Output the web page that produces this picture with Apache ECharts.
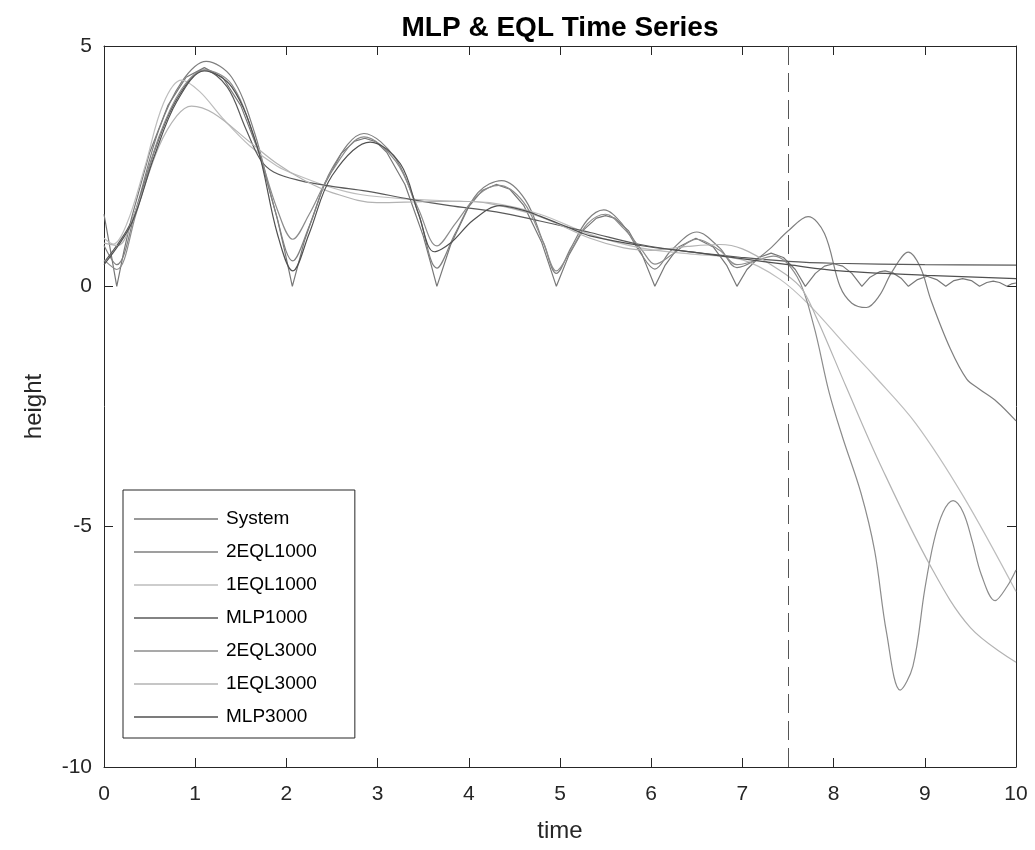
<!DOCTYPE html>
<html>
<head>
<meta charset="utf-8">
<script src="https://cdn.jsdelivr.net/npm/echarts@6/dist/echarts.min.js"></script>
<style>
  html, body { margin: 0; padding: 0; background: #fff; }
  #chart { width: 1035px; height: 850px; }
</style>
</head>
<body>
<div id="chart"></div>
<script>
// time / height pairs
var systemData = [
  [0, 1.5], [0.07, 0.76], [0.14, 0],
  [0.22, 0.75], [0.3, 1.41], [0.5, 2.78], [0.7, 3.76], [0.9, 4.35], [1.1, 4.55], [1.3, 4.35], [1.5, 3.76], [1.7, 2.78], [1.9, 1.41], [1.98, 0.75], [2.065, 0],
  [2.2, 0.96], [2.4, 2.05], [2.6, 2.76], [2.75, 3.02], [2.86, 3.08], [2.98, 3.01], [3.1, 2.79], [3.3, 2.12], [3.5, 1.05], [3.58, 0.5], [3.65, 0],
  [3.8, 0.86], [4.0, 1.66], [4.15, 2.0], [4.3, 2.12], [4.45, 2.02], [4.6, 1.69], [4.8, 0.91], [4.96, 0],
  [5.1, 0.66], [5.25, 1.16], [5.4, 1.42], [5.5, 1.47], [5.6, 1.42], [5.75, 1.16], [5.9, 0.66], [6.04, 0],
  [6.15, 0.43], [6.3, 0.82], [6.49, 1.0], [6.68, 0.82], [6.83, 0.43], [6.94, 0],
  [7.05, 0.35], [7.18, 0.6], [7.315, 0.69], [7.45, 0.6], [7.58, 0.35], [7.69, 0],
  [7.8, 0.27], [7.9, 0.42], [8.0, 0.47], [8.1, 0.42], [8.2, 0.27], [8.31, 0],
  [8.4, 0.19], [8.5, 0.3], [8.565, 0.32], [8.65, 0.28], [8.74, 0.17], [8.82, 0],
  [8.92, 0.14], [9.025, 0.21], [9.13, 0.14], [9.23, 0],
  [9.32, 0.12], [9.415, 0.16], [9.51, 0.12], [9.6, 0],
  [9.68, 0.08], [9.75, 0.11], [9.82, 0.08], [9.9, 0],
  [9.95, 0.05], [10, 0.07]
];
var eql2k1Data = [
  [0, 0.85], [0.14, 0.45], [0.35, 1.6], [0.6, 3.25], [0.85, 4.25], [1.12, 4.68], [1.4, 4.35], [1.65, 3.2], [1.88, 1.55], [2.07, 0.53],
  [2.25, 1.25], [2.5, 2.45], [2.85, 3.18], [3.2, 2.65], [3.45, 1.5], [3.65, 0.38], [3.85, 1.1], [4.1, 1.95], [4.36, 2.2], [4.62, 1.8],
  [4.82, 0.9], [4.96, 0.27], [5.12, 0.8], [5.3, 1.38], [5.48, 1.59], [5.68, 1.3], [5.88, 0.7], [6.04, 0.36], [6.22, 0.75], [6.5, 1.13],
  [6.75, 0.8], [6.94, 0.39], [7.12, 0.52], [7.3, 0.78], [7.5, 1.15], [7.72, 1.45], [7.9, 1.1], [8.07, 0.0], [8.2, -0.35], [8.36, -0.44],
  [8.5, -0.2], [8.64, 0.3], [8.82, 0.71], [8.95, 0.4], [9.07, -0.3], [9.28, -1.3], [9.46, -1.93], [9.6, -2.14], [9.79, -2.4], [10, -2.8]
];
var eql1k1Data = [
  [0, 1.0], [0.1, 0.88], [0.25, 1.3], [0.45, 2.5], [0.65, 3.8], [0.85, 4.29], [1.05, 4.05], [1.3, 3.5], [1.6, 2.92], [1.9, 2.5],
  [2.15, 2.29], [2.5, 2.05], [2.81, 1.91], [3.3, 1.82], [3.9, 1.77], [4.23, 1.74], [4.78, 1.5], [5.33, 1.08], [5.88, 0.8], [6.4, 0.68],
  [7.0, 0.55], [7.41, 0.15], [7.74, -0.4], [8.14, -1.24], [8.44, -1.85], [8.9, -2.85], [9.42, -4.36], [10, -6.35]
];
var mlp1kData = [
  [0, 0.5], [0.3, 1.35], [0.55, 2.8], [0.8, 3.9], [1.1, 4.5], [1.35, 4.15], [1.55, 3.3], [1.71, 2.65], [1.86, 2.38], [2.15, 2.2],
  [2.5, 2.08], [2.88, 1.98], [3.36, 1.81], [3.79, 1.68], [4.3, 1.55], [4.78, 1.36], [5.33, 1.12], [5.88, 0.87], [6.5, 0.7], [7.0, 0.6],
  [7.5, 0.52], [8.0, 0.48], [9.0, 0.45], [10, 0.44]
];
var eql2k3Data = [
  [0, 0.55], [0.14, 0.35], [0.35, 1.5], [0.6, 3.1], [0.85, 4.1], [1.1, 4.5], [1.4, 4.2], [1.68, 2.9], [1.9, 1.6], [2.07, 0.98],
  [2.25, 1.5], [2.5, 2.4], [2.85, 3.11], [3.2, 2.6], [3.45, 1.6], [3.65, 0.84], [3.85, 1.3], [4.1, 1.9], [4.33, 2.1], [4.6, 1.75],
  [4.82, 0.9], [4.96, 0.32], [5.12, 0.75], [5.3, 1.3], [5.5, 1.5], [5.7, 1.2], [5.9, 0.75], [6.04, 0.46], [6.22, 0.65], [6.5, 0.98],
  [6.75, 0.75], [6.94, 0.45], [7.12, 0.52], [7.34, 0.63], [7.6, 0.2], [7.78, -0.8], [7.95, -2.2], [8.1, -3.15], [8.3, -4.3], [8.45, -5.5],
  [8.58, -7.2], [8.73, -8.4], [8.87, -7.9], [9.0, -6.3], [9.1, -5.3], [9.2, -4.7], [9.31, -4.46], [9.42, -4.7], [9.52, -5.3], [9.62, -6.0],
  [9.77, -6.54], [9.9, -6.25], [10, -5.9]
];
var eql1k3Data = [
  [0, 0.9], [0.15, 0.85], [0.35, 1.6], [0.6, 2.9], [0.8, 3.55], [0.96, 3.75], [1.2, 3.6], [1.6, 3.0], [1.9, 2.55], [2.2, 2.2],
  [2.5, 1.95], [2.99, 1.74], [3.5, 1.76], [3.9, 1.77], [4.23, 1.72], [4.78, 1.45], [5.33, 1.0], [5.7, 0.8], [6.0, 0.75], [6.4, 0.83],
  [6.75, 0.87], [7.0, 0.78], [7.34, 0.42], [7.63, 0.0], [7.8, -0.6], [8.14, -2.1], [8.51, -3.7], [9.06, -5.81], [9.5, -7.1], [10, -7.82]
];
var mlp3kData = [
  [0, 0.45], [0.3, 1.3], [0.55, 2.7], [0.8, 3.85], [1.1, 4.48], [1.4, 4.15], [1.68, 2.9], [1.9, 1.1], [2.07, 0.32], [2.25, 1.1],
  [2.5, 2.3], [2.92, 3.0], [3.25, 2.55], [3.45, 1.5], [3.62, 0.72], [3.8, 0.9], [4.05, 1.38], [4.34, 1.68], [4.6, 1.58], [4.78, 1.46],
  [5.15, 1.18], [5.33, 1.05], [5.88, 0.85], [6.5, 0.7], [6.97, 0.58], [7.5, 0.45], [8.07, 0.32], [9.02, 0.23], [10, 0.16]
];
var seriesNames = ['System', '2EQL1000', '1EQL1000', 'MLP1000', '2EQL3000', '1EQL3000', 'MLP3000'];
var seriesData = [systemData, eql2k1Data, eql1k1Data, mlp1kData, eql2k3Data, eql1k3Data, mlp3kData];
var seriesColors = ['#777777', '#7f7f7f', '#bdbdbd', '#5a5a5a', '#8c8c8c', '#b3b3b3', '#505050'];
var cutTime = 7.5;

var textColor = '#262626';
var fontFam = '"Liberation Sans", Arial, Helvetica, sans-serif';

var chart = echarts.init(document.getElementById('chart'));

var series = seriesNames.map(function (name, i) {
    var s = {
        name: name,
        type: 'line',
        data: seriesData[i],
        symbol: 'none',
        smooth: i === 0 ? false : 0.35,
        lineStyle: { color: seriesColors[i], width: 1.2 },
        itemStyle: { color: seriesColors[i] }
    };
    if (i === 0) {
        // dashed marker at the end of the training window
        s.markLine = {
            silent: true,
            symbol: 'none',
            label: { show: false },
            lineStyle: { color: '#555555', width: 1, type: [19, 8] },
            data: [{ xAxis: cutTime }]
        };
    }
    return s;
});

var axisBase = {
    type: 'value',
    axisLine: { show: true, onZero: false, lineStyle: { color: textColor, width: 1 } },
    axisTick: { show: true, inside: true, length: 9, lineStyle: { color: textColor } },
    splitLine: { show: false }
};

var option = {
    animation: false,
    backgroundColor: '#fff',
    textStyle: { fontFamily: fontFam },
    title: {
        text: 'MLP & EQL Time Series',
        left: 555,
        top: 9,
        textAlign: 'center',
        textStyle: { fontSize: 28, fontWeight: 'bold', color: '#000', fontFamily: fontFam }
    },
    legend: {
        orient: 'vertical',
        left: 123,
        top: 490,
        icon: 'rect',
        itemWidth: 84,
        itemHeight: 1.4,
        itemGap: 11,
        padding: [18, 38, 10, 11],
        borderColor: textColor,
        borderWidth: 1,
        backgroundColor: '#fff',
        selectedMode: false,
        textStyle: { fontSize: 19, color: '#000', lineHeight: 22, padding: [0, 0, 0, 3], fontFamily: fontFam },
        data: seriesNames
    },
    grid: { left: 104, right: 19, top: 46, bottom: 83 },
    xAxis: [
        Object.assign({}, axisBase, {
            min: 0, max: 10, interval: 1,
            position: 'bottom',
            name: 'time',
            nameLocation: 'middle',
            nameGap: 52,
            nameTextStyle: { fontSize: 24, color: textColor },
            axisLabel: { fontSize: 21, color: textColor, margin: 17 }
        }),
        Object.assign({}, axisBase, {
            min: 0, max: 10, interval: 1,
            position: 'top',
            axisLabel: { show: false }
        })
    ],
    yAxis: [
        Object.assign({}, axisBase, {
            min: -10, max: 5, interval: 5,
            position: 'left',
            name: 'height',
            nameLocation: 'middle',
            nameGap: 58,
            nameTextStyle: { fontSize: 24, color: textColor },
            axisLabel: { fontSize: 21, color: textColor, margin: 12 }
        }),
        Object.assign({}, axisBase, {
            min: -10, max: 5, interval: 5,
            position: 'right',
            axisLabel: { show: false }
        })
    ],
    series: series
};

chart.setOption(option);
</script>
</body>
</html>
